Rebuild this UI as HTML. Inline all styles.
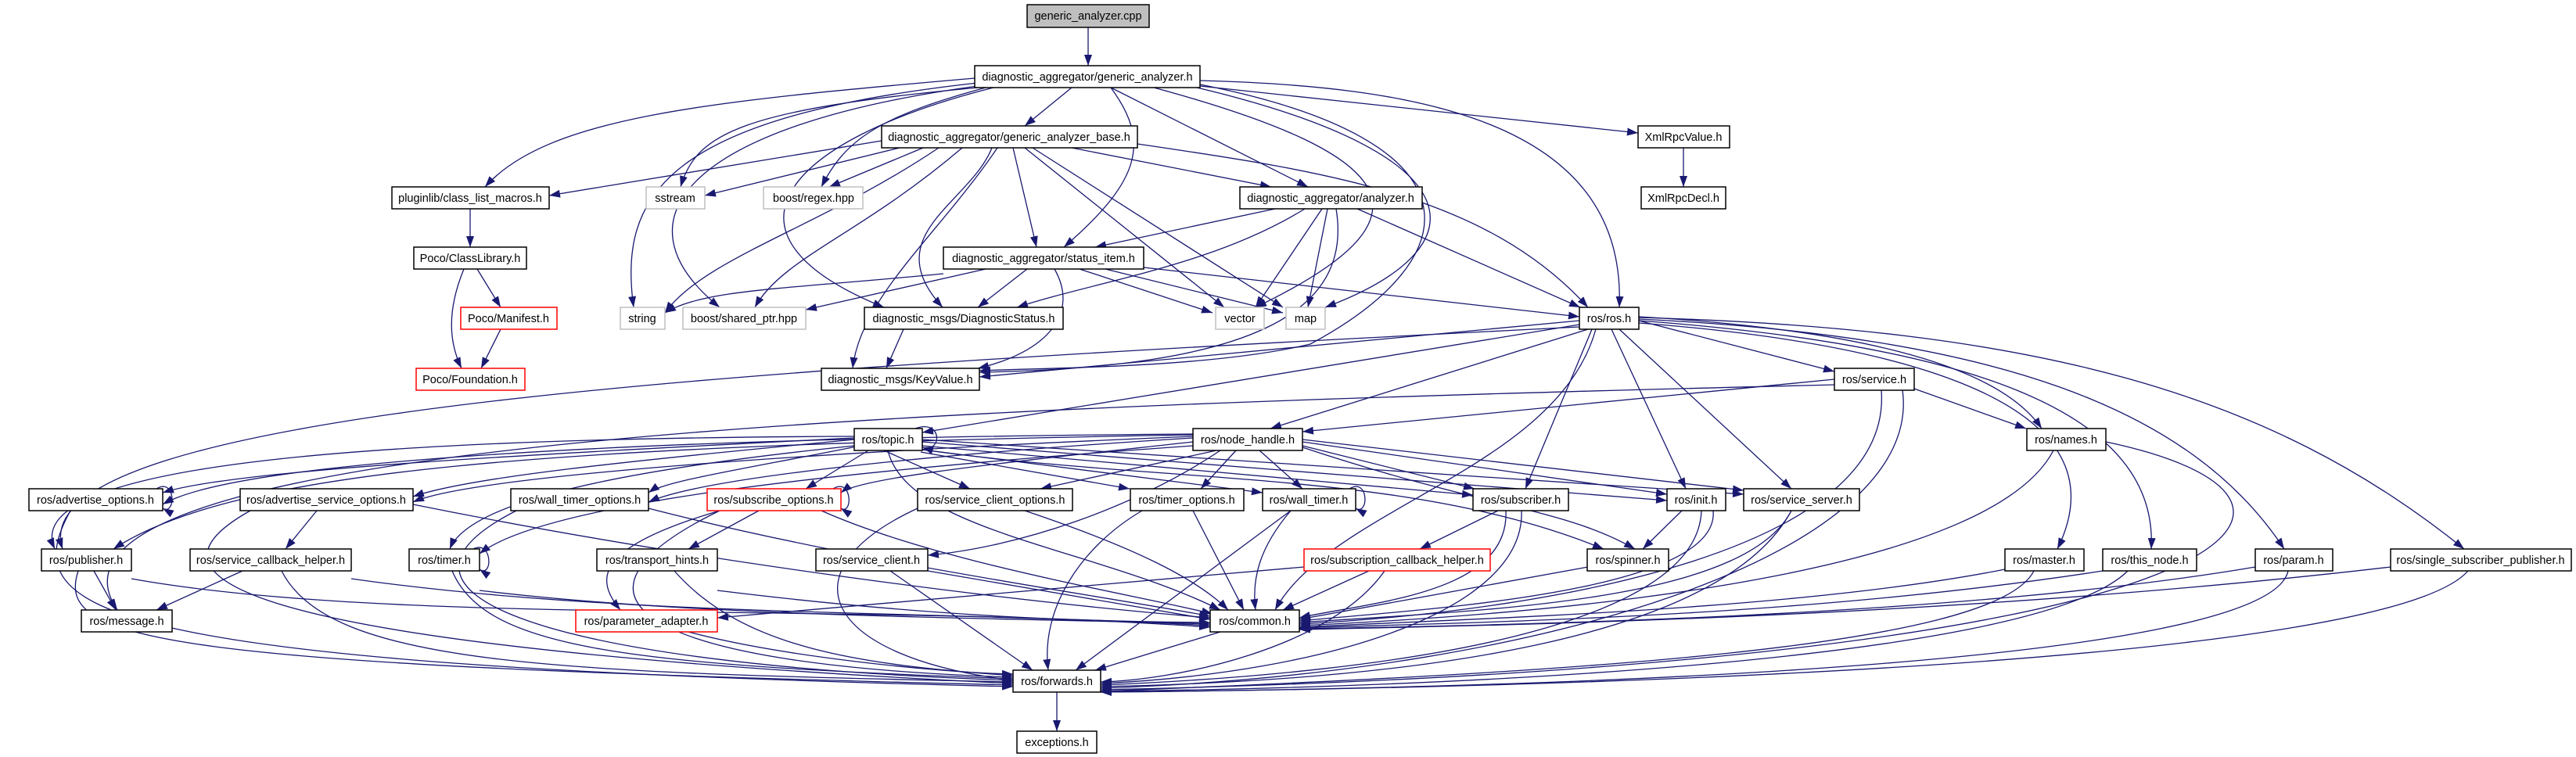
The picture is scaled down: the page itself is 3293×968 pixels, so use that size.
<!DOCTYPE html>
<html><head><meta charset="utf-8"><style>
html,body{margin:0;padding:0;background:#fff}
svg{display:block}
text{font-family:"Liberation Sans",sans-serif;font-size:14.5px;text-anchor:middle;fill:#000}
.n{fill:#fff;stroke:#000;stroke-width:1.5}
.g{fill:#fff;stroke:#bfbfbf;stroke-width:1.5}
.r{fill:#fff;stroke:#ff0000;stroke-width:1.5}
.e path{fill:none;stroke:#191970;stroke-width:1.3;marker-end:url(#a)}
</style></head><body>
<svg width="3293" height="968" viewBox="0 0 3293 968" xmlns="http://www.w3.org/2000/svg">
<defs><marker id="a" markerUnits="userSpaceOnUse" markerWidth="15" markerHeight="11" refX="14" refY="5" orient="auto"><path d="M0,0 L14,5 L0,10 z" fill="#191970"/></marker></defs>
<g class="e">
<path d="M1391,35 L1391,84"/>
<path d="M1246,100 C900,130 700,150 620,239"/>
<path d="M1250,112 C950,140 890,170 870,239"/>
<path d="M1260,112 C1120,150 1080,180 1050,239"/>
<path d="M1250,106 C850,150 790,250 810,393"/>
<path d="M1250,110 C880,160 780,280 920,393"/>
<path d="M1270,112 C1000,180 900,300 1130,393"/>
<path d="M1534,108 C1900,180 1880,330 1675,440 C1550,470 1350,470 1252,474"/>
<path d="M1370,112 L1310,161"/>
<path d="M1420,112 C1470,180 1460,230 1360,316"/>
<path d="M1420,112 L1672,239"/>
<path d="M1475,112 C1800,200 1840,280 1605,393"/>
<path d="M1530,112 C1900,200 1890,320 1694,393"/>
<path d="M1534,103 C1800,110 2080,150 2070,393"/>
<path d="M1534,110 L2094,170"/>
<path d="M1127,180 L702,250"/>
<path d="M1150,189 L901,250"/>
<path d="M1180,189 L1060,239"/>
<path d="M1200,189 C1050,290 900,330 850,400"/>
<path d="M1230,189 C1100,300 1000,330 965,393"/>
<path d="M1268,189 C1240,260 1120,300 1205,393"/>
<path d="M1275,189 C1200,300 1100,380 1090,471"/>
<path d="M1295,189 L1325,316"/>
<path d="M1370,189 L1625,239"/>
<path d="M1310,189 L1565,393"/>
<path d="M1320,189 L1640,393"/>
<path d="M1454,184 C1700,220 1900,250 2030,393"/>
<path d="M1630,267 L1400,316"/>
<path d="M1668,267 C1550,340 1400,360 1300,393"/>
<path d="M1690,267 L1605,393"/>
<path d="M1697,267 L1672,393"/>
<path d="M1735,267 L2020,393"/>
<path d="M1708,267 C1730,400 1600,470 1252,476"/>
<path d="M1206,350 C1000,370 900,370 850,400"/>
<path d="M1260,344 L1030,396"/>
<path d="M1313,344 L1250,393"/>
<path d="M1348,344 C1380,400 1340,450 1250,471"/>
<path d="M1380,344 L1550,400"/>
<path d="M1413,344 L1640,400"/>
<path d="M1462,342 L2019,405"/>
<path d="M1155,421 L1133,471"/>
<path d="M601,267 L601,316"/>
<path d="M610,344 L640,393"/>
<path d="M593,344 C570,400 575,440 590,471"/>
<path d="M640,421 L615,471"/>
<path d="M2152,189 L2152,239"/>
<path d="M2019,410 L1252,482"/>
<path d="M2019,415 L1179,553"/>
<path d="M2030,421 L1624,548"/>
<path d="M2035,421 L1950,625"/>
<path d="M2060,421 L2155,625"/>
<path d="M2070,421 L2290,625"/>
<path d="M2095,410 L2345,475"/>
<path d="M2095,405 C2350,420 2550,460 2610,548"/>
<path d="M2095,413 C2450,440 2720,520 2630,702"/>
<path d="M2095,410 C2500,440 2760,520 2750,702"/>
<path d="M2095,408 C2550,430 2800,520 2920,702"/>
<path d="M2095,406 C2600,420 2900,500 3150,702"/>
<path d="M2040,421 C1990,600 1700,650 1630,780"/>
<path d="M2019,418 C1000,470 20,520 80,702"/>
<path d="M2345,485 L1665,552"/>
<path d="M2447,497 L2590,548"/>
<path d="M2345,492 C1200,520 0,560 150,780"/>
<path d="M2405,499 C2420,700 2000,780 1661,798"/>
<path d="M2432,499 C2460,700 2000,860 1407,880"/>
<path d="M1170,548 C1205,535 1205,580 1179,572"/>
<path d="M1092,560 C700,580 300,600 208,630"/>
<path d="M1092,562 C800,590 600,610 528,635"/>
<path d="M1100,570 C950,600 850,615 829,630"/>
<path d="M1110,576 L1030,625"/>
<path d="M1092,558 C500,560 20,590 70,702"/>
<path d="M1092,570 C800,600 600,640 575,702"/>
<path d="M1130,576 L1240,625"/>
<path d="M1177,578 L1444,625"/>
<path d="M1179,575 L1614,630"/>
<path d="M1179,570 L1883,633"/>
<path d="M1179,565 L2131,640"/>
<path d="M1179,562 L2229,632"/>
<path d="M1179,575 C1500,620 1800,600 2050,702"/>
<path d="M1135,576 C1160,680 1400,700 1560,780"/>
<path d="M1525,555 C800,560 300,590 208,645"/>
<path d="M1525,558 C1000,580 600,610 528,642"/>
<path d="M1525,560 C1200,580 900,610 829,642"/>
<path d="M1525,565 C1300,590 1100,610 1075,630"/>
<path d="M1525,556 C700,570 300,600 145,702"/>
<path d="M1525,570 C1100,600 700,640 613,708"/>
<path d="M1560,576 C1450,650 1300,700 1186,710"/>
<path d="M1555,576 L1330,625"/>
<path d="M1580,576 L1535,625"/>
<path d="M1610,576 L1665,625"/>
<path d="M1665,570 L1885,625"/>
<path d="M1665,565 L2131,632"/>
<path d="M1665,562 L2229,627"/>
<path d="M1665,572 C1900,650 2000,650 2090,702"/>
<path d="M200,625 C225,610 225,660 208,650"/>
<path d="M1065,625 C1090,610 1090,660 1075,650"/>
<path d="M1725,625 C1750,610 1750,660 1733,650"/>
<path d="M605,702 C630,690 630,740 613,728"/>
<path d="M405,653 L365,702"/>
<path d="M970,653 L880,702"/>
<path d="M920,653 C760,700 760,740 793,780"/>
<path d="M120,730 L148,780"/>
<path d="M310,730 L200,780"/>
<path d="M1667,725 L917,790"/>
<path d="M1915,653 L1815,702"/>
<path d="M2150,653 L2100,702"/>
<path d="M90,653 C20,780 100,850 1295,878"/>
<path d="M100,730 C70,820 200,850 1295,876"/>
<path d="M320,653 C200,720 180,820 1295,874"/>
<path d="M360,730 C420,850 700,860 1295,872"/>
<path d="M660,653 C450,760 700,850 1295,870"/>
<path d="M578,730 C620,830 800,850 1295,868"/>
<path d="M920,653 C700,760 800,850 1295,866"/>
<path d="M862,730 C950,830 1100,850 1295,864"/>
<path d="M880,808 C1000,840 1200,860 1295,862"/>
<path d="M1138,730 L1320,857"/>
<path d="M1173,650 C1000,730 1050,840 1295,870"/>
<path d="M1460,653 C1380,700 1330,780 1340,857"/>
<path d="M1650,653 L1375,857"/>
<path d="M1560,808 L1400,857"/>
<path d="M1770,730 C1700,830 1500,870 1407,872"/>
<path d="M1945,653 C1950,780 1700,860 1407,874"/>
<path d="M2175,653 C2170,800 1800,860 1407,876"/>
<path d="M2290,653 C2200,820 1800,870 1407,878"/>
<path d="M2692,565 C3050,640 2900,850 1407,882"/>
<path d="M2600,730 C2550,830 2000,860 1407,884"/>
<path d="M2720,730 C2600,850 1800,880 1407,884"/>
<path d="M2925,730 C2900,850 2000,880 1407,885"/>
<path d="M3155,730 C3050,850 2000,880 1407,885"/>
<path d="M1351,885 L1351,935"/>
<path d="M168,740 C500,800 1100,770 1547,802"/>
<path d="M449,740 C800,790 1200,780 1547,800"/>
<path d="M613,755 C900,790 1300,790 1547,798"/>
<path d="M917,755 C1200,790 1400,795 1547,796"/>
<path d="M1186,730 L1547,792"/>
<path d="M528,645 C900,720 1300,770 1547,790"/>
<path d="M829,650 C1100,720 1400,760 1547,788"/>
<path d="M1050,653 C1200,720 1450,760 1550,785"/>
<path d="M1310,653 C1450,700 1530,740 1570,780"/>
<path d="M1525,653 L1590,780"/>
<path d="M1650,653 C1610,700 1600,740 1605,780"/>
<path d="M1750,730 L1640,780"/>
<path d="M1925,653 C1930,760 1750,770 1661,790"/>
<path d="M2030,725 L1661,792"/>
<path d="M2190,653 C2200,760 1800,780 1661,794"/>
<path d="M2290,653 C2230,770 1900,780 1661,796"/>
<path d="M2625,576 C2550,720 2100,780 1661,800"/>
<path d="M2563,728 C2300,780 1900,790 1661,802"/>
<path d="M2688,730 C2300,790 1900,795 1661,803"/>
<path d="M2883,725 C2500,790 1900,800 1661,804"/>
<path d="M3056,725 C2500,790 1900,800 1661,805"/>
</g>
<g>
<rect x="1313" y="6" width="156" height="29" fill="#bfbfbf" stroke="#000" stroke-width="1.5"/><text x="1391" y="25">generic_analyzer.cpp</text>
<rect class="n" x="1246" y="84" width="288" height="28"/><text x="1390" y="103">diagnostic_aggregator/generic_analyzer.h</text>
<rect class="n" x="1127" y="161" width="327" height="28"/><text x="1290" y="180">diagnostic_aggregator/generic_analyzer_base.h</text>
<rect class="n" x="2094" y="161" width="117" height="28"/><text x="2152" y="180">XmlRpcValue.h</text>
<rect class="n" x="501" y="239" width="201" height="28"/><text x="601" y="258">pluginlib/class_list_macros.h</text>
<rect class="g" x="826" y="239" width="75" height="28"/><text x="863" y="258">sstream</text>
<rect class="g" x="976" y="239" width="127" height="28"/><text x="1040" y="258">boost/regex.hpp</text>
<rect class="n" x="1585" y="239" width="233" height="28"/><text x="1701" y="258">diagnostic_aggregator/analyzer.h</text>
<rect class="n" x="2098" y="239" width="108" height="28"/><text x="2152" y="258">XmlRpcDecl.h</text>
<rect class="n" x="529" y="316" width="144" height="28"/><text x="601" y="335">Poco/ClassLibrary.h</text>
<rect class="n" x="1206" y="316" width="256" height="28"/><text x="1334" y="335">diagnostic_aggregator/status_item.h</text>
<rect class="r" x="589" y="393" width="123" height="28"/><text x="650" y="412">Poco/Manifest.h</text>
<rect class="g" x="793" y="393" width="57" height="28"/><text x="821" y="412">string</text>
<rect class="g" x="873" y="393" width="157" height="28"/><text x="951" y="412">boost/shared_ptr.hpp</text>
<rect class="n" x="1105" y="393" width="254" height="28"/><text x="1232" y="412">diagnostic_msgs/DiagnosticStatus.h</text>
<rect class="g" x="1554" y="393" width="62" height="28"/><text x="1585" y="412">vector</text>
<rect class="g" x="1644" y="393" width="50" height="28"/><text x="1669" y="412">map</text>
<rect class="n" x="2019" y="393" width="76" height="28"/><text x="2057" y="412">ros/ros.h</text>
<rect class="r" x="532" y="471" width="139" height="28"/><text x="601" y="490">Poco/Foundation.h</text>
<rect class="n" x="1050" y="471" width="202" height="28"/><text x="1151" y="490">diagnostic_msgs/KeyValue.h</text>
<rect class="n" x="2345" y="471" width="102" height="28"/><text x="2396" y="490">ros/service.h</text>
<rect class="n" x="1092" y="548" width="87" height="28"/><text x="1135" y="567">ros/topic.h</text>
<rect class="n" x="1525" y="548" width="140" height="28"/><text x="1595" y="567">ros/node_handle.h</text>
<rect class="n" x="2591" y="548" width="101" height="28"/><text x="2641" y="567">ros/names.h</text>
<rect class="n" x="37" y="625" width="171" height="28"/><text x="122" y="644">ros/advertise_options.h</text>
<rect class="n" x="307" y="625" width="221" height="28"/><text x="417" y="644">ros/advertise_service_options.h</text>
<rect class="n" x="653" y="625" width="176" height="28"/><text x="741" y="644">ros/wall_timer_options.h</text>
<rect class="r" x="904" y="625" width="171" height="28"/><text x="989" y="644">ros/subscribe_options.h</text>
<rect class="n" x="1173" y="625" width="198" height="28"/><text x="1272" y="644">ros/service_client_options.h</text>
<rect class="n" x="1445" y="625" width="145" height="28"/><text x="1517" y="644">ros/timer_options.h</text>
<rect class="n" x="1614" y="625" width="119" height="28"/><text x="1673" y="644">ros/wall_timer.h</text>
<rect class="n" x="1883" y="625" width="122" height="28"/><text x="1944" y="644">ros/subscriber.h</text>
<rect class="n" x="2131" y="625" width="75" height="28"/><text x="2168" y="644">ros/init.h</text>
<rect class="n" x="2229" y="625" width="148" height="28"/><text x="2303" y="644">ros/service_server.h</text>
<rect class="n" x="53" y="702" width="115" height="28"/><text x="110" y="721">ros/publisher.h</text>
<rect class="n" x="243" y="702" width="206" height="28"/><text x="346" y="721">ros/service_callback_helper.h</text>
<rect class="n" x="523" y="702" width="90" height="28"/><text x="568" y="721">ros/timer.h</text>
<rect class="n" x="763" y="702" width="154" height="28"/><text x="840" y="721">ros/transport_hints.h</text>
<rect class="n" x="1043" y="702" width="143" height="28"/><text x="1114" y="721">ros/service_client.h</text>
<rect class="r" x="1667" y="702" width="238" height="28"/><text x="1786" y="721">ros/subscription_callback_helper.h</text>
<rect class="n" x="2029" y="702" width="104" height="28"/><text x="2081" y="721">ros/spinner.h</text>
<rect class="n" x="2563" y="702" width="101" height="28"/><text x="2613" y="721">ros/master.h</text>
<rect class="n" x="2688" y="702" width="120" height="28"/><text x="2748" y="721">ros/this_node.h</text>
<rect class="n" x="2883" y="702" width="99" height="28"/><text x="2932" y="721">ros/param.h</text>
<rect class="n" x="3056" y="702" width="231" height="28"/><text x="3171" y="721">ros/single_subscriber_publisher.h</text>
<rect class="n" x="104" y="780" width="116" height="28"/><text x="162" y="799">ros/message.h</text>
<rect class="r" x="736" y="780" width="181" height="28"/><text x="826" y="799">ros/parameter_adapter.h</text>
<rect class="n" x="1547" y="780" width="114" height="28"/><text x="1604" y="799">ros/common.h</text>
<rect class="n" x="1295" y="857" width="112" height="28"/><text x="1351" y="876">ros/forwards.h</text>
<rect class="n" x="1300" y="935" width="102" height="28"/><text x="1351" y="954">exceptions.h</text>
</g>
</svg>
</body></html>
